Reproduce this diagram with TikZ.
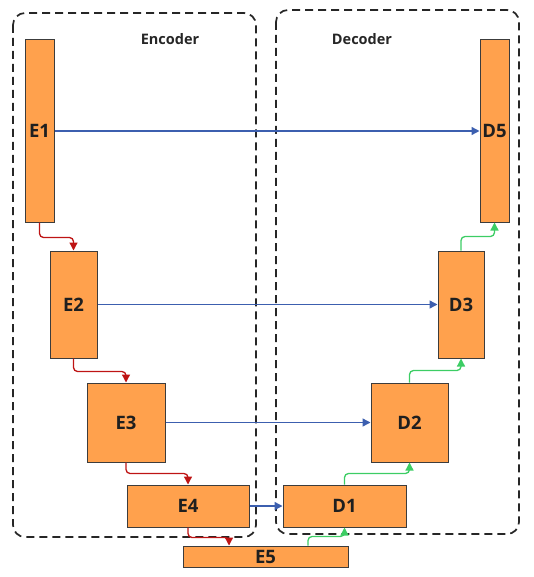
\documentclass[tikz,border=0pt]{standalone}
\usepackage{fontspec}
\setmainfont{Open Sans}
\usetikzlibrary{arrows.meta,calc}
\definecolor{blockfill}{RGB}{255,161,77}
\definecolor{blockline}{RGB}{60,60,60}
\definecolor{redarr}{RGB}{190,20,20}
\definecolor{greenarr}{RGB}{60,205,100}
\definecolor{bluearr}{RGB}{60,95,175}
\tikzset{
  blk/.style={draw=blockline,fill=blockfill,line width=1pt,inner sep=0pt,font=\fontsize{18.5}{20}\selectfont\bfseries,text=black!88},
  grp/.style={draw=black!85,line width=1.7pt,dash pattern=on 8pt off 5pt,rounded corners=12pt},
  redline/.style={draw=redarr,line width=1.3pt,rounded corners=4pt,-{Triangle[length=8pt,width=8pt]}},
  greenline/.style={draw=greenarr,line width=1.3pt,rounded corners=4pt,-{Triangle[length=8pt,width=8pt]}},
  blueline/.style={draw=bluearr,line width=1.4pt,-{Triangle[length=8pt,width=8pt]}},
  grplabel/.style={font=\fontsize{14.5}{16}\selectfont\bfseries,text=black!85}
}
\begin{document}
\begin{tikzpicture}[x=1pt,y=-1pt]
\useasboundingbox (0,0) rectangle (533,577);
% groups
\draw[grp] (13,13) rectangle (256,537);
\draw[grp] (276,10) rectangle (519,534);
\node[grplabel] (enc) at (170,39) {Encoder};
\node[grplabel] (dec) at (362,39) {Decoder};
% blocks
\node[blk,minimum width=29pt,minimum height=182pt] (E1) at (39.5,131) {E1};
\node[blk,minimum width=29pt,minimum height=182pt] (D5) at (494.5,131) {D5};
\node[blk,minimum width=47pt,minimum height=107pt] (E2) at (73.5,304.5) {E2};
\node[blk,minimum width=46pt,minimum height=107pt] (D3) at (461,304.5) {D3};
\node[blk,minimum width=78pt,minimum height=79pt] (E3) at (126,422.5) {E3};
\node[blk,minimum width=77pt,minimum height=79pt] (D2) at (409.5,422.5) {D2};
\node[blk,minimum width=122pt,minimum height=42pt] (E4) at (188,506) {E4};
\node[blk,minimum width=123pt,minimum height=42pt] (D1) at (344.5,506) {D1};
\node[blk,minimum width=165pt,minimum height=21pt] (E5) at (265.5,556.5) {E5};
% skip connections
\draw[blueline] (E1.east) -- (D5.west);
\draw[blueline] (E2.east) -- (D3.west);
\draw[blueline] (E3.east) -- (D2.west);
\draw[blueline] (E4.east) -- (D1.west);
% encoder path
\draw[redline] (E1.south) -- ++(0,15) -| (E2.north);
\draw[redline] (E2.south) -- ++(0,13) -| (E3.north);
\draw[redline] (E3.south) -- ++(0,11) -| (E4.north);
\draw[redline] (E4.south) -- ++(0,10) -| ($(E5.north)+(-36.5,0)$);
% decoder path
\draw[greenline] ($(E5.north)+(42.5,0)$) -- ++(0,-9) -| (D1.south);
\draw[greenline] (D1.north) -- ++(0,-11) -| (D2.south);
\draw[greenline] (D2.north) -- ++(0,-12) -| (D3.south);
\draw[greenline] (D3.north) -- ++(0,-14) -| (D5.south);
\end{tikzpicture}
\end{document}
